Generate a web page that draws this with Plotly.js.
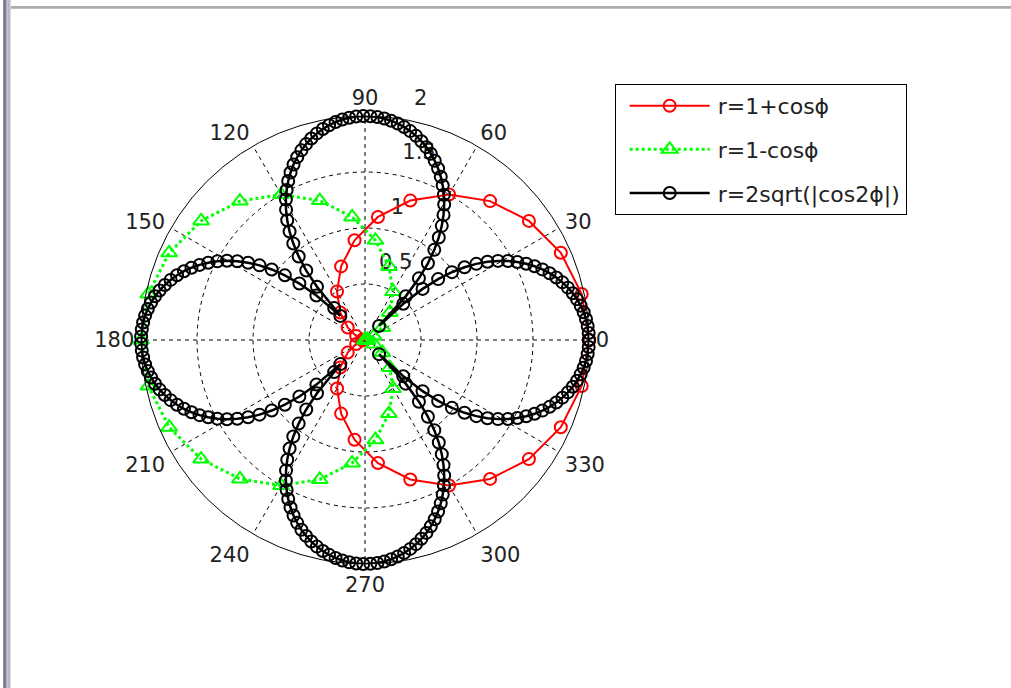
<!DOCTYPE html>
<html>
<head>
<meta charset="utf-8">
<script src="https://cdn.plot.ly/plotly-3.0.1.min.js"></script>
<style>
  html, body { margin: 0; padding: 0; background: #ffffff; }
  #chart { width: 1011px; height: 688px; position: relative; }
  #frameLeft { position: absolute; left: 3px; top: 0; width: 8px; height: 688px;
    background: linear-gradient(to right, #9a9aae 0, #6c6c84 2px, #c8c8d8 4px, #b0b0c4 6px, #e4e4ee 8px); z-index: 5; }
  #frameTop { position: absolute; left: 11px; top: 6px; width: 1000px; height: 3px;
    background: linear-gradient(to bottom, #b4b4b4 0, #a8a8a8 2px, #d8d8d8 3px); z-index: 5; }
</style>
</head>
<body>
<div id="frameLeft"></div>
<div id="frameTop"></div>
<div id="chart"></div>
<script>
// angles (degrees) for the cardioid curves
const thetaCardioid = [0,12,24,36,48,60,72,84,96,108,120,132,144,156,168,180,192,204,216,228,240,252,264,276,288,300,312,324,336,348,360];
// r = 1 + cos(phi)
const rPlus = [2,1.978,1.914,1.809,1.669,1.5,1.309,1.105,0.895,0.691,0.5,0.331,0.191,0.086,0.022,0,0.022,0.086,0.191,0.331,0.5,0.691,0.895,1.105,1.309,1.5,1.669,1.809,1.914,1.978,2];
// r = 1 - cos(phi)
const rMinus = [0,0.022,0.086,0.191,0.331,0.5,0.691,0.895,1.105,1.309,1.5,1.669,1.809,1.914,1.978,2,1.978,1.914,1.809,1.669,1.5,1.309,1.105,0.895,0.691,0.5,0.331,0.191,0.086,0.022,0];
// angles (degrees) for the four-leaf curve (200 samples over the full turn)
const thetaLeaf = [0,1.809,3.618,5.427,7.236,9.045,10.854,12.663,14.472,16.281,18.090,19.899,21.709,23.518,25.327,27.136,28.945,30.754,32.563,34.372,
  36.181,37.990,39.799,41.608,43.417,45.226,47.035,48.844,50.653,52.462,54.271,56.080,57.889,59.698,61.508,63.317,65.126,66.935,68.744,70.553,
  72.362,74.171,75.980,77.789,79.598,81.407,83.216,85.025,86.834,88.643,90.452,92.261,94.070,95.879,97.688,99.497,101.307,103.116,104.925,106.734,
  108.543,110.352,112.161,113.970,115.779,117.588,119.397,121.206,123.015,124.824,126.633,128.442,130.251,132.060,133.869,135.678,137.487,139.296,141.106,142.915,
  144.724,146.533,148.342,150.151,151.960,153.769,155.578,157.387,159.196,161.005,162.814,164.623,166.432,168.241,170.050,171.859,173.668,175.477,177.286,179.095,
  180.905,182.714,184.523,186.332,188.141,189.950,191.759,193.568,195.377,197.186,198.995,200.804,202.613,204.422,206.231,208.040,209.849,211.658,213.467,215.276,
  217.085,218.894,220.704,222.513,224.322,226.131,227.940,229.749,231.558,233.367,235.176,236.985,238.794,240.603,242.412,244.221,246.030,247.839,249.648,251.457,
  253.266,255.075,256.884,258.693,260.503,262.312,264.121,265.930,267.739,269.548,271.357,273.166,274.975,276.784,278.593,280.402,282.211,284.020,285.829,287.638,
  289.447,291.256,293.065,294.874,296.683,298.492,300.302,302.111,303.920,305.729,307.538,309.347,311.156,312.965,314.774,316.583,318.392,320.201,322.010,323.819,
  325.628,327.437,329.246,331.055,332.864,334.673,336.482,338.291,340.101,341.910,343.719,345.528,347.337,349.146,350.955,352.764,354.573,356.382,358.191,360];
// r = 2 sqrt(|cos 2phi|)
const rLeaf = [2,1.9980,1.9920,1.9820,1.9680,1.9499,1.9278,1.9015,1.8709,1.8361,1.7968,1.7530,1.7045,1.6511,1.5925,1.5283,1.4582,1.3814,1.2971,1.2042,
  1.1009,0.9844,0.8498,0.6874,0.4700,0.1777,0.5326,0.7315,0.8856,1.0150,1.1279,1.2283,1.3189,1.4012,1.4763,1.5449,1.6077,1.6650,1.7171,1.7644,
  1.8071,1.8452,1.8790,1.9084,1.9337,1.9548,1.9719,1.9849,1.9939,1.9989,1.9999,1.9969,1.9899,1.9789,1.9639,1.9448,1.9216,1.8942,1.8626,1.8267,
  1.7863,1.7414,1.6917,1.6370,1.5770,1.5114,1.4396,1.3610,1.2748,1.1795,1.0732,0.9527,0.8124,0.6401,0.3973,0.3078,0.5890,0.7731,0.9198,1.0445,
  1.1540,1.2518,1.3402,1.4206,1.4940,1.5611,1.6225,1.6785,1.7294,1.7755,1.8170,1.8540,1.8867,1.9151,1.9394,1.9595,1.9755,1.9875,1.9955,1.9995,
  1.9995,1.9955,1.9875,1.9755,1.9595,1.9394,1.9151,1.8867,1.8540,1.8170,1.7755,1.7294,1.6785,1.6225,1.5611,1.4940,1.4206,1.3402,1.2518,1.1540,
  1.0445,0.9198,0.7731,0.5890,0.3078,0.3973,0.6401,0.8124,0.9527,1.0732,1.1795,1.2748,1.3610,1.4396,1.5114,1.5770,1.6370,1.6917,1.7414,1.7863,
  1.8267,1.8626,1.8942,1.9216,1.9448,1.9639,1.9789,1.9899,1.9969,1.9999,1.9989,1.9939,1.9849,1.9719,1.9548,1.9337,1.9084,1.8790,1.8452,1.8071,
  1.7644,1.7171,1.6650,1.6077,1.5449,1.4763,1.4012,1.3189,1.2283,1.1279,1.0150,0.8856,0.7315,0.5326,0.1777,0.4700,0.6874,0.8498,0.9844,1.1009,
  1.2042,1.2971,1.3814,1.4582,1.5283,1.5925,1.6511,1.7045,1.7530,1.7968,1.8361,1.8709,1.9015,1.9278,1.9499,1.9680,1.9820,1.9920,1.9980,2];

const seriesNames = ['r=1+cos\u03d5', 'r=1-cos\u03d5', 'r=2sqrt(|cos2\u03d5|)'];
const angleTicks = [0,30,60,90,120,150,180,210,240,270,300,330];
const radialTicks = [0.5,1,1.5,2];
const radialLabels = ['0.5','1','1.5','2'];
const radialLabelAngle = 78;

const FONT = 'DejaVu Sans, Liberation Sans, Arial, sans-serif';

// 'polar' (drawn first, underneath) only carries the radial tick labels; it has the same centre
// and scale as 'polar2' but a wider range, so the "2" can sit outside the outer circle.
// 'polar2' (drawn on top, transparent background) carries the grid and the three curves.
const traces = [
  { type: 'scatterpolar', subplot: 'polar2', mode: 'lines+markers', name: seriesNames[0], r: rPlus, theta: thetaCardioid,
    line: { color: '#ff0000', width: 2 },
    marker: { symbol: 'circle-open', size: 12, color: '#ff0000', line: { width: 2, color: '#ff0000' } },
    legendgroup: 'a' },
  { type: 'scatterpolar', subplot: 'polar2', mode: 'lines+markers', name: seriesNames[1], r: rMinus, theta: thetaCardioid,
    line: { color: '#00ff00', width: 3, dash: 'dot' },
    marker: { symbol: 'triangle-up-open', size: 14, color: '#00ff00', line: { width: 2, color: '#00ff00' } },
    legendgroup: 'b' },
  { type: 'scatterpolar', subplot: 'polar2', mode: 'lines+markers', name: seriesNames[2], r: rLeaf, theta: thetaLeaf,
    line: { color: '#000000', width: 2.5 },
    marker: { symbol: 'circle-open', size: 12, color: '#000000', line: { width: 2, color: '#000000' } },
    legendgroup: 'c' },
  { type: 'scatterpolar', subplot: 'polar', mode: 'text', r: radialTicks.map(function (v) { return v + 0.1; }),
    theta: radialTicks.map(function () { return radialLabelAngle; }),
    text: radialLabels, textposition: 'top right', cliponaxis: false,
    textfont: { family: FONT, size: 21, color: '#222222' },
    showlegend: false, hoverinfo: 'skip' }
];

const layout = {
  width: 1011, height: 688,
  margin: { l: 0, r: 0, t: 0, b: 0 },
  paper_bgcolor: '#ffffff',
  font: { family: FONT, size: 21, color: '#000000' },
  showlegend: true,
  legend: {
    x: 0.608, y: 0.878, xanchor: 'left', yanchor: 'top',
    bgcolor: '#ffffff', bordercolor: '#000000', borderwidth: 1,
    font: { family: FONT, size: 22, color: '#222222' },
    traceorder: 'grouped', tracegroupgap: 12, itemwidth: 92
  },
  polar: {
    domain: { x: [0.1173, 0.6048], y: [0.1477, 0.8640] },
    bgcolor: '#ffffff',
    radialaxis: { range: [0, 2.2], visible: false, showgrid: false, showline: false, showticklabels: false, ticks: '' },
    angularaxis: { direction: 'counterclockwise', rotation: 0, visible: false, showgrid: false, showline: false, showticklabels: false, ticks: '' }
  },
  polar2: {
    domain: { x: [0.1395, 0.5826], y: [0.1802, 0.8314] },
    bgcolor: 'rgba(0,0,0,0)',
    radialaxis: {
      range: [0, 2], tickvals: radialTicks, showticklabels: false,
      angle: radialLabelAngle, showline: false, ticks: '',
      showgrid: true, gridcolor: '#000000', gridwidth: 1, griddash: '4px,4px'
    },
    angularaxis: {
      direction: 'counterclockwise', rotation: 0,
      tickvals: angleTicks, ticktext: angleTicks.map(String),
      showline: true, linecolor: '#000000', linewidth: 1,
      showgrid: true, gridcolor: '#000000', gridwidth: 1, griddash: '4px,4px',
      ticks: 'outside', ticklen: 2, tickcolor: 'rgba(0,0,0,0)',
      tickfont: { family: FONT, size: 21, color: '#222222' }
    }
  }
};

Plotly.newPlot('chart', traces, layout, { displayModeBar: false, staticPlot: true }).then(function (gd) {
  // MATLAB-style long legend samples: line 80px with the marker in its middle
  gd.querySelectorAll('.legend .traces').forEach(function (item) {
    item.querySelectorAll('.legendlines path').forEach(function (p) { p.setAttribute('d', 'M14,0h80'); });
    item.querySelectorAll('.legendsymbols .legendpoints path').forEach(function (p) { p.setAttribute('transform', 'translate(54,0)'); });
  });
});
</script>
</body>
</html>
